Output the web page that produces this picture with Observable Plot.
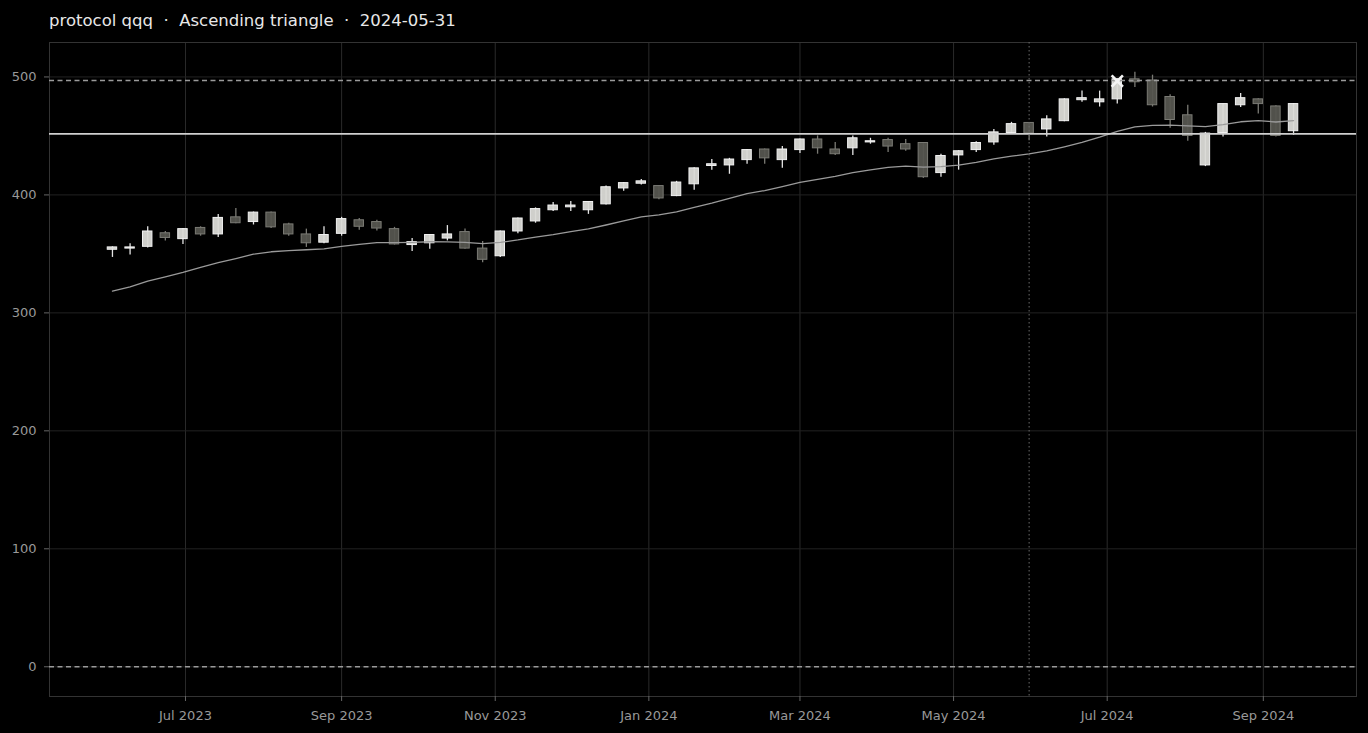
<!DOCTYPE html>
<html>
<head>
<meta charset="utf-8">
<script src="https://cdn.jsdelivr.net/npm/d3@7"></script>
<script src="https://cdn.jsdelivr.net/npm/@observablehq/plot@0.6"></script>
<style>
  html, body { margin: 0; padding: 0; background: #000; }
  #title { position: relative; height: 41px; width: 1368px; }
  #title span { position: absolute; left: 49px; top: 11.4px; font-family: "DejaVu Sans", sans-serif; font-size: 16.5px; color: #e8e8e8; white-space: pre; line-height: normal; }
  #chart svg { display: block; }
</style>
</head>
<body>
<div id="title"><span>protocol qqq  ·  Ascending triangle  ·  2024-05-31</span></div>
<div id="chart"></div>
<script>
const dates = [
  "2023-06-02","2023-06-09","2023-06-16","2023-06-23","2023-06-30","2023-07-07","2023-07-14","2023-07-21","2023-07-28",
  "2023-08-04","2023-08-11","2023-08-18","2023-08-25","2023-09-01","2023-09-08","2023-09-15","2023-09-22","2023-09-29",
  "2023-10-06","2023-10-13","2023-10-20","2023-10-27","2023-11-03","2023-11-10","2023-11-17","2023-11-24","2023-12-01",
  "2023-12-08","2023-12-15","2023-12-22","2023-12-29","2024-01-05","2024-01-12","2024-01-19","2024-01-26","2024-02-02",
  "2024-02-09","2024-02-16","2024-02-23","2024-03-01","2024-03-08","2024-03-15","2024-03-22","2024-03-29","2024-04-05",
  "2024-04-12","2024-04-19","2024-04-26","2024-05-03","2024-05-10","2024-05-17","2024-05-24","2024-05-31","2024-06-07",
  "2024-06-14","2024-06-21","2024-06-28","2024-07-05","2024-07-12","2024-07-19","2024-07-26","2024-08-02","2024-08-09",
  "2024-08-16","2024-08-23","2024-08-30","2024-09-06","2024-09-13"
];
const opens = [
  353.5,354.5,356,367.5,362.5,372,366.5,381,377,385,375,366.5,359.5,367,378.5,377,371,357.5,359,363,368.5,354.5,348,369,377.5,
  387,389.5,387,392,405.5,409.5,407.5,399,409,424.5,425,429.5,438.5,429.5,438,447,438.5,439.5,444.5,446.5,443,444,418.5,433.5,
  438,444.5,452.5,461,455.5,462.5,480.3,478.5,481,498,497,483,467.5,425,452.5,476,481,475,454
];
const highs = [
  356,358.5,373,369,371.5,373,383.5,388.5,385.5,385.5,376,371,373,381,380,378.5,372.5,363,366.5,374,371,360.5,369.5,380.5,389,
  393.5,394.5,394,407.5,410.5,413,407.5,411.5,423,430,431,438.5,439,441,447.5,450,444.5,450,448,448,447,444,434.5,437.5,
  445,455.5,461.5,461,467,481.5,488,488,498.5,504,501.5,485,476,453,477,486,481.5,475.5,477.5
];
const lows = [
  347,349,355,361,358,365,364,375.5,374.5,371.5,365,355.5,358.5,365,370,369.5,357.5,352,354,361,354,342.5,347,367,376,
  386,386,383.5,391.5,403,408.5,396,398.5,404,421,417.5,426,426,422.5,435,434.5,433.5,433.5,443,436,437,414,415,421,
  436,442,452,446,449,462,478.5,474.5,477,491,474.5,456.5,445.5,424,449,474,468.5,449,450.5
];
const closes = [
  355.5,355.5,369,363.5,371,366.5,380.5,376,385,372.5,366.5,359,366,379.5,373,371.5,358,360,366,366.5,354.5,345,369,380,388,
  391,391,394,406.5,410,411.5,397,410.5,422.5,426,430,438,431,438.5,447,439.5,434.5,448,445.5,441,438.5,415,433,437,
  444,453,460,452,464,481,482,481,498,495.5,476,463.5,450,452,477,482,477,450,477
];
const movingAvg = [
  318.5,322,327,330.5,334.3,338.5,342.5,346,349.8,351.8,352.7,353.5,354.3,356.3,358,359.6,359.6,359.8,360.3,360.2,359.8,358.7,
  359.8,361.8,364.2,366.3,368.8,371.2,374.5,378,381.4,383,385.6,389.4,393,397,401,403.7,407,410.6,413.2,415.8,418.9,421.2,
  423.3,424.4,423.5,424,425.3,427.6,430.5,432.8,434.8,437.3,440.8,444.6,449,453.8,457.7,458.9,459.2,458.5,457.9,459.5,462,463,461.8,463
];
const yTicks = [0, 100, 200, 300, 400, 500];
const xTickLabels = ["2023-07-01","2023-09-01","2023-11-01","2024-01-01","2024-03-01","2024-05-01","2024-07-01","2024-09-01"];
const xDomain = ["2023-05-08", "2024-10-08"];
const yDomain = [-25.2, 529.2];
const resistanceLevel = 451.7;
const targetLevel = 497;
const baseLevel = 0;
const signalDate = "2024-05-31";
const breakoutDate = "2024-07-05";
const breakoutValue = 496.5;

const rows = dates.map((d, i) => ({
  date: new Date(d),
  open: opens[i], high: highs[i], low: lows[i], close: closes[i],
  ma: movingAvg[i],
  up: closes[i] >= opens[i]
}));
const xTicks = xTickLabels.map(d => new Date(d));
const halfBody = 45; // hours

const chart = Plot.plot({
  width: 1368,
  height: 692,
  marginTop: 1,
  marginBottom: 37,
  marginLeft: 49,
  marginRight: 12,
  style: { background: "#000", color: "#999", fontFamily: "DejaVu Sans, sans-serif", fontSize: "13px" },
  x: { type: "utc", domain: xDomain.map(d => new Date(d)) },
  y: { domain: yDomain },
  marks: [
    Plot.gridX(xTicks, { stroke: "#2a2a2a", strokeOpacity: 1 }),
    Plot.gridY(yTicks, { stroke: "#222", strokeOpacity: 1 }),
    Plot.frame({ stroke: "#333" }),
    Plot.axisX(xTicks, { tickFormat: d3.utcFormat("%b %Y"), tickSize: 5, tickPadding: 9, stroke: "#666", fill: "#999", label: null, fontSize: 13 }),
    Plot.axisY(yTicks, { tickSize: 5, tickPadding: 8, stroke: "#666", fill: "#999", label: null, fontSize: 13 }),
    Plot.ruleX(rows, { x: "date", y1: "low", y2: "high", stroke: d => d.up ? "#e4e4e4" : "#7a7a74", strokeWidth: 1.3 }),
    Plot.rect(rows, {
      x1: d => d3.utcHour.offset(d.date, -halfBody),
      x2: d => d3.utcHour.offset(d.date, halfBody),
      y1: "open", y2: "close",
      fill: d => d.up ? "#dadad6" : "#55554f",
      stroke: d => d.up ? "#f2f2f2" : "#7a7a74",
      strokeWidth: 1,
      fillOpacity: 0.95
    }),
    Plot.line(rows, { x: "date", y: "ma", stroke: "#9a9a9a", strokeWidth: 1.3 }),
    Plot.ruleY([resistanceLevel], { stroke: "#cfcfcf", strokeWidth: 1.8 }),
    Plot.ruleY([targetLevel, baseLevel], { stroke: "#9a9a9a", strokeWidth: 1.3, strokeDasharray: "5,3.5" }),
    Plot.ruleX([new Date(signalDate)], { stroke: "#6a6a6a", strokeWidth: 1, strokeDasharray: "1.5,2.5" }),
    Plot.dot([{ date: new Date(breakoutDate), v: breakoutValue }], { x: "date", y: "v", symbol: "times", r: 5.2, stroke: "#f4f4f4", strokeWidth: 2.6 })
  ]
});
document.getElementById("chart").appendChild(chart);
</script>
</body>
</html>
